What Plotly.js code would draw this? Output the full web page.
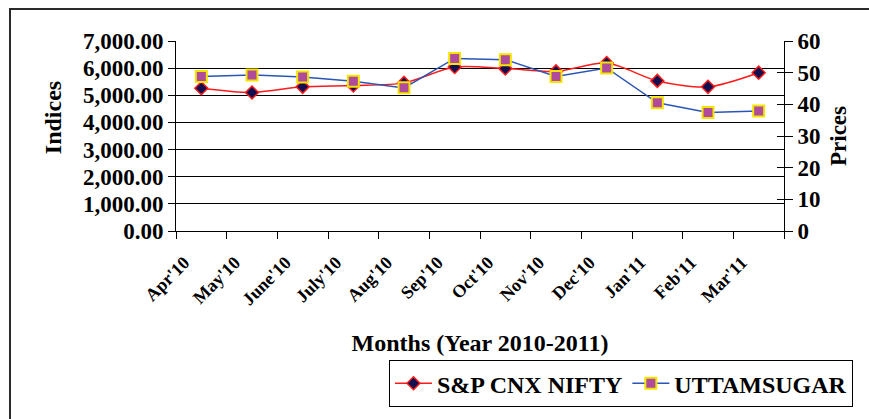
<!DOCTYPE html>
<html><head><meta charset="utf-8">
<script src="https://cdn.plot.ly/plotly-3.0.1.min.js"></script>
<style>
html,body{margin:0;padding:0;background:#fff;overflow:hidden;}
#frame{position:absolute;left:9px;top:8px;width:900px;height:500px;border:2px solid #2a2a2a;box-sizing:border-box;}
#chart{position:absolute;left:0;top:0;width:869px;height:419px;}
</style>
</head><body>
<div id="frame"></div>
<div id="chart"></div>
<script>
const months = ["Apr'10","May'10","June'10","July'10","Aug'10","Sep'10","Oct'10","Nov'10","Dec'10","Jan'11","Feb'11","Mar'11"];
const nifty = [5261, 5104, 5312, 5360, 5457, 6041, 5990, 5881, 6187, 5530, 5312, 5833];
const uttam = [48.8, 49.3, 48.6, 47.3, 45.2, 54.5, 54.1, 48.8, 51.5, 40.5, 37.4, 37.9];
const leftTicks = [0,1000,2000,3000,4000,5000,6000,7000];
const leftTickText = ["0.00","1,000.00","2,000.00","3,000.00","4,000.00","5,000.00","6,000.00","7,000.00"];
const rightTicks = [0,10,20,30,40,50,60];

const F = "Liberation Serif, Times New Roman, serif";
const traces = [
  {x: months, y: nifty, name: 'S&P CNX NIFTY', type: 'scatter', mode: 'lines+markers', yaxis: 'y',
   line: {color: '#ff1a1a', width: 1.5, shape: 'spline', smoothing: 0.8},
   marker: {symbol: 'diamond', size: 10, color: '#101050', line: {color: '#ff1a1a', width: 1.5}}},
  {x: months, y: uttam, name: 'UTTAMSUGAR', type: 'scatter', mode: 'lines+markers', yaxis: 'y2',
   line: {color: '#2a55b5', width: 1.5},
   marker: {symbol: 'square', size: 11, color: '#b04a9c', line: {color: '#f2e600', width: 2}}},
  {x: months, y: uttam, yaxis: 'y3', type: 'scatter', mode: 'none', showlegend: false, hoverinfo: 'skip'}
];
const layout = {
  width: 869, height: 419,
  margin: {l: 176, r: 85, t: 41, b: 186},
  paper_bgcolor: 'rgba(0,0,0,0)', plot_bgcolor: 'rgba(0,0,0,0)',
  font: {family: F, color: '#000'},
  showlegend: true,
  legend: {orientation: 'h', x: (389-176)/608, xanchor: 'left', y: -0.68, yanchor: 'top',
    bordercolor: '#000', borderwidth: 1, bgcolor: '#fff',
    font: {family: F, size: 24, color: '#000', weight: 'bold'}, tracegroupgap: 0, itemwidth: 37},
  xaxis: {type: 'category', tickson: 'boundaries', ticks: 'outside', ticklen: 7, tickcolor: '#000',
    showline: true, linecolor: '#000', linewidth: 1, showgrid: false, tickangle: -45,
    ticklabelshift: -17, ticklabelstandoff: 13,
    tickfont: {family: F, size: 18, weight: 'bold'}, range: [-0.5, 11.5],
    title: {text: 'Months (Year 2010-2011)', font: {family: F, size: 24, weight: 'bold'}, standoff: 25}},
  yaxis: {range: [0, 7000], tickvals: leftTicks, ticktext: leftTickText, ticks: 'outside', ticklen: 7,
    tickcolor: '#000', showline: true, linecolor: '#000', showgrid: true, gridcolor: '#000', gridwidth: 1,
    zeroline: false, tickfont: {family: F, size: 23, weight: 'bold'}},
  yaxis2: {range: [0, 60], tickvals: rightTicks, overlaying: 'y', side: 'right', ticks: 'outside', ticklen: 8,
    tickcolor: '#000', showline: true, linecolor: '#000', showgrid: false, zeroline: false,
    tickfont: {family: F, size: 23, weight: 'bold'}},
  yaxis3: {range: [0, 60], tickvals: rightTicks, overlaying: 'y', side: 'right', ticks: 'inside', ticklen: 7,
    tickcolor: '#000', showline: false, showgrid: false, zeroline: false, showticklabels: false},
  annotations: [
    {text: 'Indices', xref: 'paper', yref: 'paper', x: (53-176)/608, y: (233-119)/192, textangle: -90,
     showarrow: false, font: {family: F, size: 24, weight: 'bold'}, xanchor: 'center', yanchor: 'middle'},
    {text: 'Prices', xref: 'paper', yref: 'paper', x: (838-176)/608, y: (233-137)/192, textangle: -90,
     showarrow: false, font: {family: F, size: 23, weight: 'bold'}, xanchor: 'center', yanchor: 'middle'}
  ]
};
Plotly.newPlot('chart', traces, layout, {displayModeBar: false, staticPlot: true});
</script>
</body></html>
